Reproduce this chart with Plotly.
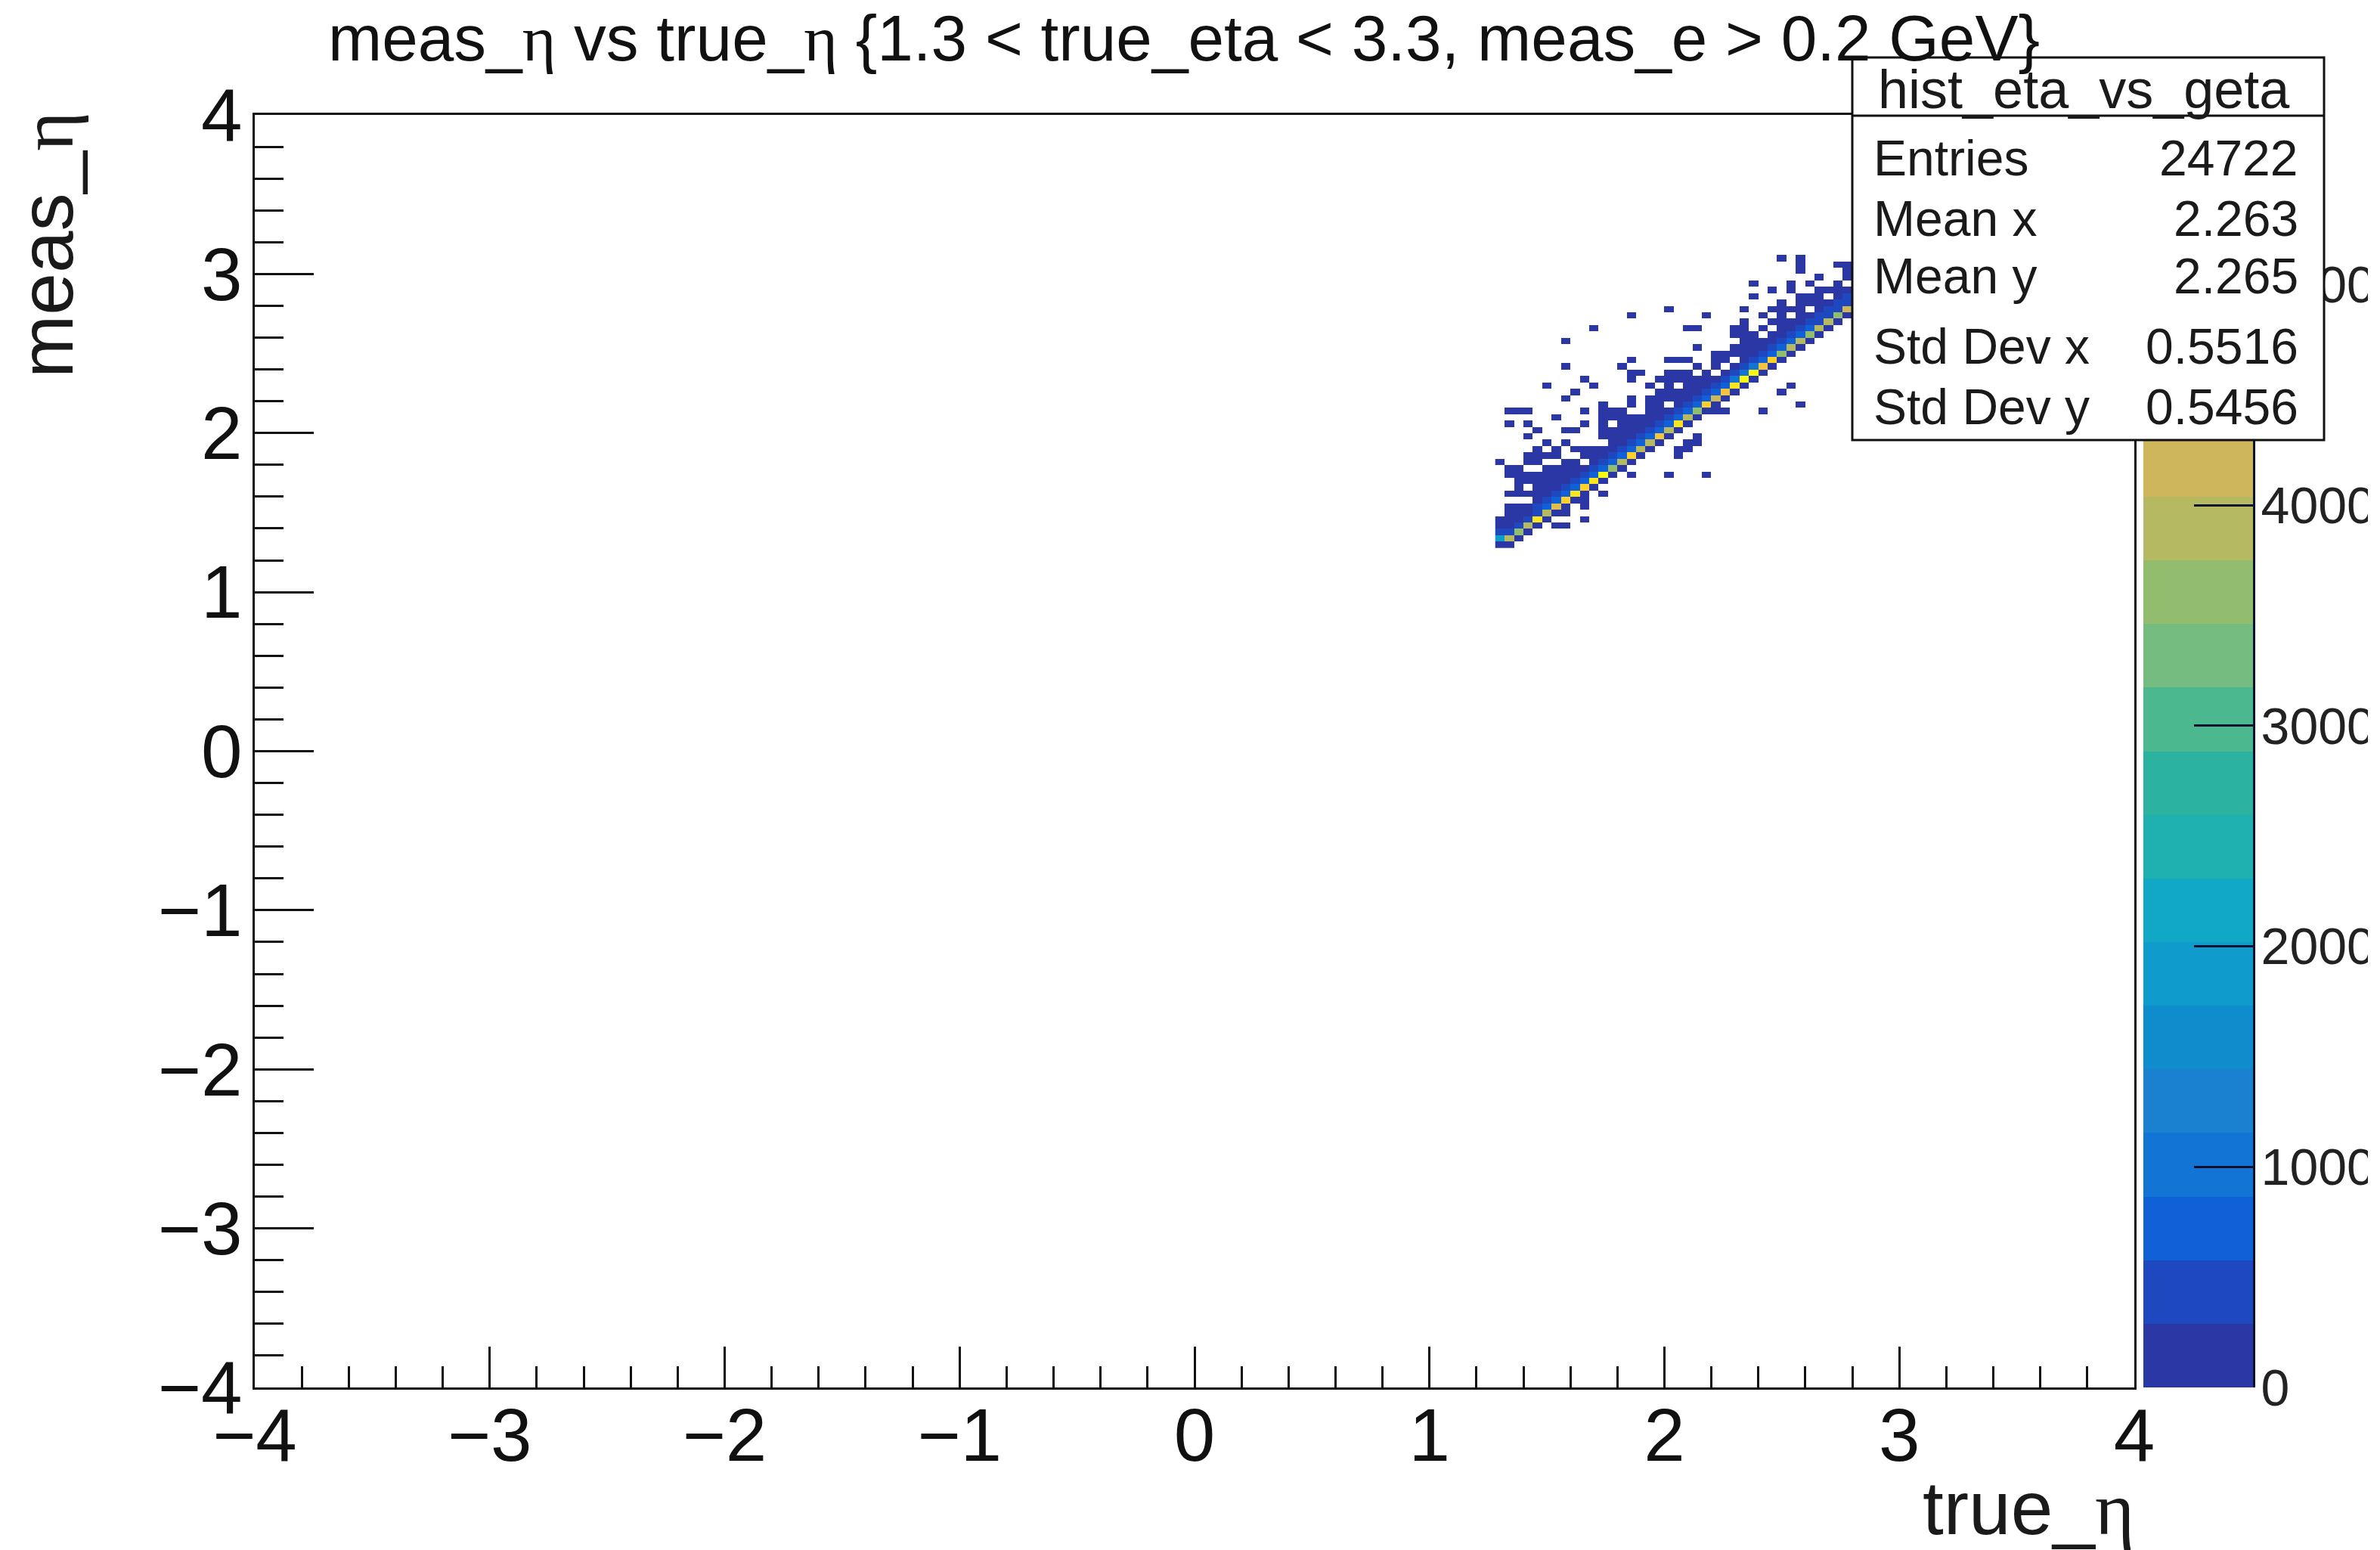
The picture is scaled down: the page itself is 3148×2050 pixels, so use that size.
import plotly.graph_objects as go

W, H = 3148, 2050
FONT = "Liberation Sans"
SERIF = "Liberation Serif"

# Histogram binning (bin width 0.04 in both axes), first populated bin edge 1.28
bin_width = 0.04
first_edge = 1.28
n_cols = 38
n_rows = 47

# Estimated bin contents along the diagonal, one per column
ridge_counts = [100, 3895, 3606, 3895, 5337, 3895, 4472, 5049, 5337, 5049,
                5337, 5626, 3606, 3895, 5049, 3895, 3895, 4760, 3895, 5337,
                3895, 3606, 5049, 4183, 4760, 5337, 5626, 5626, 4760, 5049,
                3606, 3895, 3895, 3606, 3895, 3895, 3606, 4183]
# One row above the diagonal
above1_counts = [1900, 500, 300, 300, 500, 600, 600, 700, 800, 700,
                 700, 800, 700, 800, 700, 600, 700, 600, 600, 800,
                 700, 700, 800, 800, 800, 900, 900, 900, 800, 800,
                 700, 700, 600, 600, 500, 500, 500, 400]
# Two rows above the diagonal
above2_counts = [300, 200, 200, 200, 300, 300, 350, 400, 400, 400,
                 400, 450, 400, 450, 400, 350, 400, 350, 350, 450,
                 450, 450, 500, 500, 500, 550, 550, 500, 450, 450,
                 400, 400, 350, 350, 300, 300, 300, 300]
# One row below the diagonal (column 0 has none)
below1_counts = [0, 80, 80, 80, 80, 80, 80, 80, 80, 80,
                 80, 80, 80, 80, 80, 80, 80, 80, 80, 80,
                 80, 80, 80, 80, 80, 80, 80, 80, 80, 80,
                 80, 80, 80, 80, 80, 80, 80, 80]

# Low-content bins away from the diagonal: populated columns, row by row
low_count = 60
low_columns_by_row = [
    [0], [], [0], [0, 1, 6, 7], [0, 1, 2, 9],
    [1, 2, 3, 7], [1, 2, 3, 4, 9], [4, 5, 9], [1, 2, 3, 4, 5, 6, 11], [2, 4, 5, 6, 7, 8],
    [2, 3, 4, 5, 6, 7, 8, 9], [1, 2, 3, 4, 5, 6, 7, 8, 9, 10, 14, 18, 22],
    [1, 2, 5, 6, 7, 8, 9, 10, 11], [0, 3, 4, 7, 8, 10, 11, 12],
    [3, 4, 5, 6, 9, 10, 11, 12, 13, 19], [4, 6, 8, 9, 10, 11, 12, 13, 14, 19, 20],
    [5, 7, 12, 13, 14, 15, 20, 21], [3, 11, 12, 13, 14, 15, 16, 21],
    [4, 7, 8, 11, 12, 13, 14, 15, 16, 17], [1, 3, 9, 11, 13, 14, 15, 16, 17, 18],
    [6, 11, 12, 13, 14, 15, 16, 17, 18], [1, 2, 3, 9, 11, 12, 13, 16, 17, 18, 19, 23, 24, 28],
    [11, 14, 16, 17, 19, 20, 32], [7, 14, 16, 17, 18, 19, 20, 21],
    [8, 17, 18, 19, 20, 21, 22, 30], [5, 10, 16, 18, 20, 21, 22, 23, 24, 31],
    [9, 14, 17, 18, 19, 20, 21, 22, 23, 24], [14, 15, 18, 19, 20, 22, 24, 25],
    [7, 13, 21, 23, 25, 26], [14, 18, 19, 20, 23, 24, 26, 27],
    [23, 24, 25, 26, 27, 28], [21, 25, 26, 27, 28, 29], [7, 26, 27, 28, 29, 30],
    [25, 26, 27, 29, 30, 31], [10, 20, 21, 25, 26, 28, 30, 31, 32],
    [26, 29, 30, 31, 32, 33], [14, 22, 28, 30, 32, 33, 34],
    [18, 26, 29, 30, 31, 32, 34, 35], [30, 32, 33, 34, 35, 36, 37],
    [27, 32, 33, 34, 36, 37], [29, 31, 34, 35, 36, 37], [27, 31, 33, 36],
    [34, 37], [32, 37], [32, 36, 37], [30, 32], [],
]

palette_max = 5770
palette_colors = ["#2b37a5", "#1d48c0", "#1060d8", "#1274d4", "#1a80d0",
                  "#0f8ccc", "#0f9ccc", "#10a8c4", "#1fb0b0", "#2cb3a0",
                  "#4cb890", "#74bc80", "#92bd6e", "#b5b962", "#cdb75a",
                  "#dfbf4d", "#f2c53c", "#fdd02c", "#fbe61d", "#f9fb0e"]
palette_ticks = [0, 1000, 2000, 3000, 4000, 5000]
axis_ticks = [-4, -3, -2, -1, 0, 1, 2, 3, 4]

stat_name = "hist_eta_vs_geta"
stat_labels = ["Entries", "Mean x", "Mean y", "Std Dev x", "Std Dev y"]
stat_values = ["24722", "2.263", "2.265", "0.5516", "0.5456"]

eta = f'<span style="font-family:{SERIF}">η</span>'
title_text = f"meas_{eta} vs true_{eta} {{1.3 &lt; true_eta &lt; 3.3, meas_e &gt; 0.2 GeV}}"
x_title = f"true_{eta}"
y_title = f"meas_{eta}"

# Build the matrix
z = [[None] * n_cols for _ in range(n_rows)]
for r, cols in enumerate(low_columns_by_row):
    for c in cols:
        z[r][c] = low_count
for c in range(n_cols):
    if c + 2 < n_rows:
        z[c + 2][c] = above2_counts[c]
    if c + 1 < n_rows:
        z[c + 1][c] = above1_counts[c]
    z[c][c] = ridge_counts[c]
    if c >= 1:
        z[c - 1][c] = below1_counts[c]

x_edges = [first_edge + bin_width * i for i in range(n_cols + 1)]
y_edges = [first_edge + bin_width * i for i in range(n_rows + 1)]

n_bands = len(palette_colors)
colorscale = []
for i, col in enumerate(palette_colors):
    colorscale.append([i / n_bands, col])
    colorscale.append([(i + 1) / n_bands, col])

band_edges = [palette_max * i / n_bands for i in range(n_bands + 1)]
band_values = [[palette_max * (i + 0.5) / n_bands] for i in range(n_bands)]


def px(v):
    return v / W


def py(v):
    return 1 - v / H


LEFT, RIGHT, TOP, BOTTOM = 337, 2823, 152, 1835
PAL_L, PAL_R = 2835, 2980

fig = go.Figure()
fig.add_trace(go.Heatmap(x=x_edges, y=y_edges, z=z, zmin=0, zmax=palette_max,
                         colorscale=colorscale, showscale=False,
                         hoverongaps=False, xaxis="x", yaxis="y"))
fig.add_trace(go.Heatmap(x=[0, 1], y=band_edges, z=band_values, zmin=0, zmax=palette_max,
                         colorscale=colorscale, showscale=False,
                         xaxis="x2", yaxis="y2"))

LINE = "#111111"
tick_font = dict(family=FONT, size=98, color="#111111")
fig.update_layout(
    width=W, height=H, autosize=False,
    margin=dict(l=0, r=0, t=0, b=0, pad=0),
    paper_bgcolor="white", plot_bgcolor="white",
    showlegend=False,
    title=dict(text=title_text, x=px(434), xref="paper", xanchor="left",
               y=py(50), yref="paper", yanchor="middle", automargin=False,
               font=dict(family=FONT, size=85.5, color="#111111")),
    xaxis=dict(domain=[px(LEFT), px(RIGHT)], range=[-4, 4], tickmode="array", tickvals=axis_ticks,
               ticks="inside", ticklen=54, tickwidth=2.5, tickcolor=LINE,
               showline=True, linecolor=LINE, linewidth=3, mirror=True, automargin=False,
               showgrid=False, zeroline=False, tickfont=tick_font, anchor="y",
               ticklabelstandoff=-24,
               minor=dict(tickmode="linear", tick0=0, dtick=0.2, ticks="inside", ticklen=28,
                          tickwidth=2.5, tickcolor=LINE, showgrid=False)),
    yaxis=dict(domain=[py(BOTTOM), py(TOP)], range=[-4, 4], tickmode="array", tickvals=axis_ticks,
               ticks="inside", ticklen=78, tickwidth=2.5, tickcolor=LINE,
               showline=True, linecolor=LINE, linewidth=3, mirror=True, automargin=False,
               showgrid=False, zeroline=False, tickfont=tick_font, anchor="x",
               ticklabelstandoff=-6,
               minor=dict(tickmode="linear", tick0=0, dtick=0.2, ticks="inside", ticklen=38,
                          tickwidth=2.5, tickcolor=LINE, showgrid=False)),
    xaxis2=dict(domain=[px(PAL_L), px(PAL_R)], range=[0, 1], visible=False, anchor="y2",
                automargin=False),
    yaxis2=dict(domain=[py(BOTTOM), py(TOP)], range=[0, palette_max], side="right", anchor="x2",
                tickmode="array", tickvals=palette_ticks, ticks="inside", ticklen=78,
                tickwidth=2.5, tickcolor="#0a1030", showline=True, linecolor="#0a1030",
                linewidth=3, showgrid=False, zeroline=False, automargin=False,
                ticklabelstandoff=-6,
                tickfont=dict(family=FONT, size=68, color="#222222")),
)

BOX_L, BOX_R, BOX_T, BOX_B, BOX_DIV = 2450, 3074, 76, 582, 153
fig.add_shape(type="rect", xref="paper", yref="paper", layer="above",
              x0=px(BOX_L), x1=px(BOX_R), y0=py(BOX_B), y1=py(BOX_T),
              line=dict(color=LINE, width=3), fillcolor="white")
fig.add_shape(type="line", xref="paper", yref="paper", layer="above",
              x0=px(BOX_L), x1=px(BOX_R), y0=py(BOX_DIV), y1=py(BOX_DIV),
              line=dict(color=LINE, width=3))
# The reference's palette labels are cut off near the right edge of the canvas
fig.add_shape(type="rect", xref="paper", yref="paper", layer="above",
              x0=px(3132), x1=1, y0=0, y1=1, line=dict(width=0), fillcolor="white")


def note(text, x, y, xanchor="left", size=66, angle=0, yanchor="middle"):
    fig.add_annotation(text=text, x=px(x), y=py(y), xref="paper", yref="paper",
                       xanchor=xanchor, yanchor=yanchor, showarrow=False, textangle=angle,
                       borderpad=0, borderwidth=0,
                       font=dict(family=FONT, size=size, color="#1a1a1a"))


note(stat_name, (BOX_L + BOX_R) / 2 - 6, 118, xanchor="center", size=72)
stat_rows = [209, 289, 365, 458, 538]
for label, value, row in zip(stat_labels, stat_values, stat_rows):
    note(label, 2478, row)
    note(value, 3040, row, xanchor="right")

note(x_title, RIGHT, 1994, xanchor="right", size=100)
note(y_title, 62, 148, xanchor="center", size=100, angle=-90, yanchor="top")

fig.write_html("out.html", config=dict(displayModeBar=False),
               post_script="document.body.style.margin='0';")
